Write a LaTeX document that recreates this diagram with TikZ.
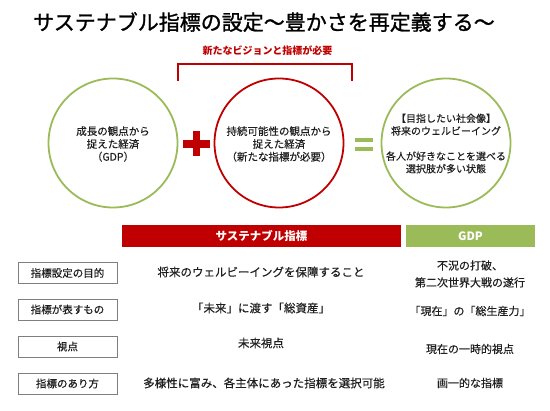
\documentclass[tikz,border=0pt]{standalone}
\usepackage{fontspec}
\setmainfont{Noto Sans CJK JP}
\newfontfamily\titlefont{Noto Sans CJK JP}[FakeBold=1.2]
\newfontfamily\rowfont{Noto Sans CJK JP}[FakeBold=0.4]
\definecolor{cred}{HTML}{C00000}
\definecolor{cgreen}{HTML}{9BBB59}
\definecolor{cgray}{HTML}{7F7F7F}
\definecolor{ctext}{HTML}{1F1F1F}
\tikzset{
  circ/.style={circle, line width=1.8pt, minimum size=129pt, inner sep=0pt},
  ctxt/.style={align=center, text=ctext, font=\rowfont\fontsize{10.5}{12.8}\selectfont},
  bar/.style={minimum height=22pt, inner sep=0pt, text=white, font=\bfseries\fontsize{11.5}{13}\selectfont},
  lbox/.style={draw=cgray, line width=0.7pt, minimum width=99pt, minimum height=21pt, inner sep=0pt, text=ctext, font=\rowfont\fontsize{10.5}{12}\selectfont},
  rtxt/.style={align=center, text=ctext, font=\rowfont\fontsize{11.5}{17}\selectfont},
  gtxt/.style={align=center, text=ctext, font=\rowfont\fontsize{11}{17}\selectfont},
}
\begin{document}
\begin{tikzpicture}[x=1pt,y=-1pt]
\useasboundingbox (0,0) rectangle (550,411);
% title
\node[text=black, font=\titlefont\fontsize{21}{24}\selectfont] (title) at (264,22) {サステナブル指標の設定～豊かさを再定義する～};
% red label and bracket
\node[text=cred, font=\bfseries\fontsize{10}{12}\selectfont] (need) at (267.5,51) {新たなビジョンと指標が必要};
\coordinate (bl) at (178,81);
\coordinate (br) at (352,81);
\draw[cred, line width=1.5pt] (bl) -- (178,64) -- (352,64) -- (br);
% circles
\node[circ, draw=cgreen] (c1) at (113,143) {};
\node[circ, draw=cred] (c2) at (279,143) {};
\node[circ, draw=cgreen] (c3) at (446,143) {};
\node[ctxt] (t1) at (113,144) {成長の観点から\\捉えた経済\\（GDP）};
\node[ctxt] (t2) at (279,144) {持続可能性の観点から\\捉えた経済\\（新たな指標が必要）};
\node[ctxt, font=\rowfont\fontsize{10}{12.6}\selectfont] (t3) at (446,143.5) {【目指したい社会像】\\将来のウェルビーイング\\[12.6pt]各人が好きなことを選べる\\選択肢が多い状態};
% plus
\node[fill=cred, minimum width=27pt, minimum height=7.5pt, inner sep=0pt] (plush) at (196.5,144) {};
\node[fill=cred, minimum width=7.5pt, minimum height=25pt, inner sep=0pt] (plusv) at (196.5,144) {};
% equals
\node[fill=cgreen, minimum width=18pt, minimum height=4.5pt, inner sep=0pt] (eq1) at (364,140) {};
\node[fill=cgreen, minimum width=18pt, minimum height=4.5pt, inner sep=0pt] (eq2) at (364,149) {};
% header bars
\node[bar, fill=cred, minimum width=279pt] (hs) at (261.5,236) {サステナブル指標};
\node[bar, fill=cgreen, minimum width=129pt] (hg) at (470.5,236) {GDP};
% rows
\node[lbox] (l1) at (67.5,273) {指標設定の目的};
\node[lbox] (l2) at (67.5,309.5) {指標が表すもの};
\node[lbox] (l3) at (67.5,346.5) {視点};
\node[lbox] (l4) at (67.5,383.5) {指標のあり方};
\node[rtxt] (m1) at (261,272) {将来のウェルビーイングを保障すること};
\node[rtxt] (m2) at (261,308) {「未来」に渡す「総資産」};
\node[rtxt] (m3) at (261,343) {未来視点};
\node[rtxt] (m4) at (264,383) {多様性に富み、各主体にあった指標を選択可能};
\node[gtxt] (g1) at (470,274) {不況の打破、\\第二次世界大戦の遂行};
\node[gtxt] (g2) at (470,311) {「現在」の「総生産力」};
\node[gtxt] (g3) at (470,349) {現在の一時的視点};
\node[gtxt] (g4) at (470,383) {画一的な指標};
\end{tikzpicture}
\end{document}
